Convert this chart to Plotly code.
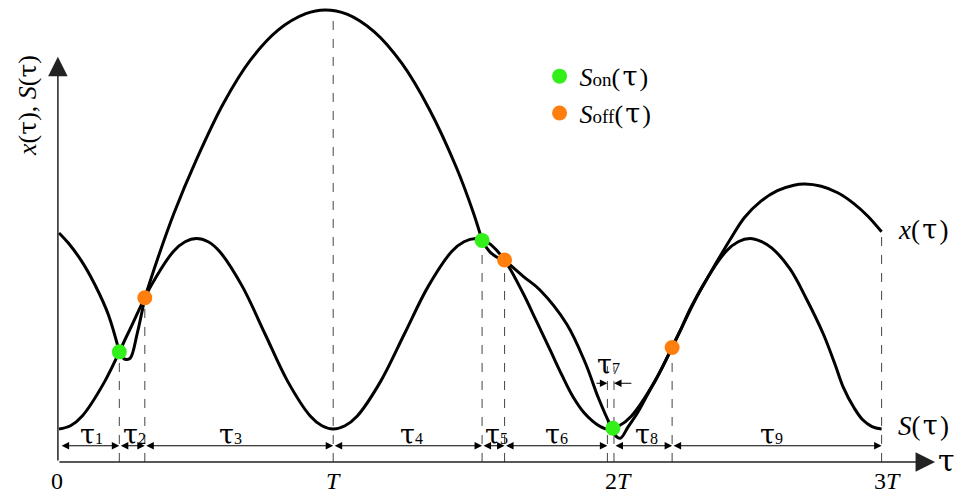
import plotly.graph_objects as go

# ---------------- data (τ in units of T, values in arbitrary units) ----------------
# S(τ): periodic reference curve
s_tau = [0, 0.042, 0.084, 0.167, 0.251, 0.335, 0.418, 0.46, 0.502,
         0.544, 0.585, 0.668, 0.751, 0.834, 0.917, 0.959, 1.0,
         1.043, 1.087, 1.173, 1.26, 1.347, 1.433, 1.477, 1.52,
         1.55, 1.575, 1.625, 1.692, 1.74, 1.791, 1.835, 1.875, 1.915, 1.947, 1.975, 2.0,
         2.043, 2.087, 2.173, 2.26, 2.347, 2.433, 2.477, 2.52,
         2.56, 2.60, 2.666, 2.727, 2.787, 2.83, 2.86, 2.90, 2.93, 2.965, 3.0]
s_val = [0, 0.017, 0.067, 0.25, 0.5, 0.75, 0.933, 0.983, 1.0,
         0.983, 0.933, 0.75, 0.5, 0.25, 0.067, 0.017, 0,
         0.017, 0.067, 0.25, 0.5, 0.75, 0.933, 0.983, 1.0,
         0.99, 0.968, 0.887, 0.714, 0.57, 0.415, 0.28, 0.168, 0.085, 0.04, 0.012, 0,
         0.017, 0.067, 0.25, 0.5, 0.75, 0.933, 0.983, 1.0,
         0.985, 0.95, 0.84, 0.68, 0.50, 0.34, 0.22, 0.11, 0.05, 0.013, 0]

# x(τ): piecewise segments between switching points
xa_tau = [0, 0.034, 0.083, 0.131, 0.18, 0.22]
xa_val = [1.029, 0.976, 0.88, 0.757, 0.6, 0.405]
xb_tau = [0.22, 0.232, 0.245, 0.26, 0.285, 0.313]
xb_val = [0.405, 0.375, 0.365, 0.372, 0.50, 0.689]
xc_tau = [0.313, 0.36, 0.42, 0.50, 0.60, 0.70, 0.80, 0.90, 0.97, 1.05, 1.15, 1.25, 1.35, 1.45, 1.51, 1.543]
xc_val = [0.689, 0.895, 1.135, 1.41, 1.71, 1.94, 2.095, 2.18, 2.20, 2.178, 2.085, 1.92, 1.68, 1.37, 1.14, 0.99]
xd_tau = [1.543, 1.558, 1.575, 1.60, 1.625]
xd_val = [0.99, 0.955, 0.925, 0.90, 0.887]
xe_tau = [1.625, 1.694, 1.754, 1.852, 1.92, 1.968, 2.008, 2.02]
xe_val = [0.887, 0.80, 0.73, 0.55, 0.345, 0.16, 0.03, 0.004]
xf_tau = [2.02, 2.033, 2.048, 2.075, 2.11, 2.15, 2.19, 2.236]
xf_val = [0.004, -0.04, -0.048, 0.01, 0.085, 0.19, 0.295, 0.428]
xg_tau = [2.236, 2.27, 2.30, 2.33, 2.362, 2.40, 2.45, 2.50, 2.56, 2.62, 2.68, 2.72,
          2.78, 2.84, 2.90, 2.95, 3.0]
xg_val = [0.428, 0.53, 0.625, 0.705, 0.785, 0.88, 1.0, 1.11, 1.196, 1.251, 1.28, 1.286,
          1.274, 1.24, 1.182, 1.117, 1.035]

# switching points
on_tau = [0.22, 1.543, 2.02]
on_val = [0.405, 0.99, 0.004]
off_tau = [0.313, 1.625, 2.236]
off_val = [0.689, 0.887, 0.428]

# interval boundaries and labels
int_start = [0.004, 0.22, 0.313, 1.0, 1.543, 1.625, 2.024, 2.236]
int_end = [0.22, 0.313, 1.0, 1.543, 1.625, 2.0, 2.236, 3.0]
int_names = ["1", "2", "3", "4", "5", "6", "8", "9"]
int_label_pos = [0.12, 0.277, 0.624, 1.287, 1.597, 1.816, 2.144, 2.60]
tau7_bounds = [2.0, 2.024]

tick_pos = [-0.007, 1.0, 2.039, 3.02]
tick_text = ["0", "<i>T</i>", "2<i>T</i>", "3<i>T</i>"]

# ---------------- figure ----------------
FONT = "Liberation Serif"
GREEN = "#33f01a"
ORANGE = "#ff7f0e"
AX_Y = -0.173      # level of the τ axis
DIM_Y = -0.088     # level of the interval arrows


def tau(size, pad=False):
    sp = "&#8202;" if pad else ""
    return f"{sp}<span style='font-family:DejaVu Serif;font-size:{size}px'>τ</span>{sp}"


fig = go.Figure()

line_style = dict(color="black", width=3, shape="spline", smoothing=1.0)
fig.add_trace(go.Scatter(x=s_tau, y=s_val, mode="lines", line=line_style,
                         showlegend=False, hoverinfo="skip"))
for tt, vv in [(xa_tau, xa_val), (xb_tau, xb_val), (xc_tau, xc_val), (xd_tau, xd_val),
               (xe_tau, xe_val), (xf_tau, xf_val), (xg_tau, xg_val)]:
    fig.add_trace(go.Scatter(x=tt, y=vv, mode="lines", line=line_style,
                             showlegend=False, hoverinfo="skip"))

# dashed verticals
dash = dict(color="#444", width=1, dash="dash")
vlines = [(on_tau[0], on_val[0]), (off_tau[0], off_val[0]), (1.0, max(xc_val)),
          (on_tau[1], on_val[1]), (off_tau[1], off_val[1]),
          (tau7_bounds[0], 0.33), (tau7_bounds[1], 0.33),
          (off_tau[2], off_val[2]), (3.0, xg_val[-1])]
for t, top in vlines:
    fig.add_shape(type="line", x0=t, x1=t, y0=AX_Y, y1=top, line=dash, layer="below")

fig.add_trace(go.Scatter(x=on_tau, y=on_val, mode="markers",
                         marker=dict(color=GREEN, size=15),
                         name=f"<i>S</i><span style='font-size:19px'>on</span>({tau(27, True)})"))
fig.add_trace(go.Scatter(x=off_tau, y=off_val, mode="markers",
                         marker=dict(color=ORANGE, size=15),
                         name=f"<i>S</i><span style='font-size:19px'>off</span>({tau(27, True)})"))

ann = []
# axes with arrows
ann.append(dict(x=3.195, y=AX_Y, ax=-0.004, ay=AX_Y, xref="x", yref="y", axref="x", ayref="y",
                text="", showarrow=True, arrowhead=2, arrowsize=2.6, arrowwidth=1.5,
                arrowcolor="#222", standoff=0))
ann.append(dict(x=-0.004, y=1.954, ax=-0.004, ay=AX_Y, xref="x", yref="y", axref="x", ayref="y",
                text="", showarrow=True, arrowhead=2, arrowsize=2.6, arrowwidth=1.5,
                arrowcolor="#222", standoff=0))
# interval arrows
for a, b in zip(int_start, int_end):
    ann.append(dict(x=b, y=DIM_Y, ax=a, ay=DIM_Y, xref="x", yref="y", axref="x", ayref="y",
                    text="", showarrow=True, arrowside="end+start", arrowhead=2, startarrowhead=2,
                    arrowsize=1.5, startarrowsize=1.5, arrowwidth=1, arrowcolor="black",
                    standoff=0, startstandoff=0))
# τ7 arrows
ann.append(dict(x=tau7_bounds[0], y=0.24, ax=1.955, ay=0.24, xref="x", yref="y", axref="x", ayref="y",
                text="", showarrow=True, arrowhead=2, arrowsize=1.5, arrowwidth=1,
                arrowcolor="black", standoff=0))
ann.append(dict(x=tau7_bounds[1], y=0.24, ax=2.093, ay=0.24, xref="x", yref="y", axref="x", ayref="y",
                text="", showarrow=True, arrowhead=2, arrowsize=1.5, arrowwidth=1,
                arrowcolor="black", standoff=0))

lab_font = dict(family=FONT, size=26, color="black")
for name, pos in zip(int_names, int_label_pos):
    ann.append(dict(x=pos, y=-0.031, xref="x", yref="y", showarrow=False,
                    text=f"{tau(27)}<span style='font-size:16px'>{name}</span>", font=lab_font))
ann.append(dict(x=2.003, y=0.341, xref="x", yref="y", showarrow=False,
                text=f"{tau(27)}<span style='font-size:16px'>7</span>", font=lab_font))

tick_font = dict(family=FONT, size=24, color="black")
for p, t in zip(tick_pos, tick_text):
    ann.append(dict(x=p, y=-0.273, xref="x", yref="y", showarrow=False, text=t, font=tick_font))

ann.append(dict(x=3.235, y=AX_Y + 0.01, xref="x", yref="y", showarrow=False, text=tau(30),
                font=dict(family=FONT, size=28, color="black")))
ann.append(dict(x=3.151, y=1.045, xref="x", yref="y", showarrow=False,
                text=f"<i>x</i>({tau(27, True)})", font=dict(family=FONT, size=27, color="black")))
ann.append(dict(x=3.151, y=0.021, xref="x", yref="y", showarrow=False,
                text=f"<i>S</i>({tau(27, True)})", font=dict(family=FONT, size=27, color="black")))
ann.append(dict(x=-0.113, y=1.696, xref="x", yref="y", showarrow=False, textangle=-90,
                text=f"<i>x</i>({tau(25)}), <i>S</i>({tau(25)})",
                font=dict(family=FONT, size=26, color="black")))

fig.update_layout(
    width=955, height=493,
    margin=dict(l=0, r=0, t=0, b=0),
    paper_bgcolor="white", plot_bgcolor="white",
    xaxis=dict(range=[-59 / 274.2, (955 - 59) / 274.2], visible=False, fixedrange=True),
    yaxis=dict(range=[-64 / 190.5, 429 / 190.5], visible=False, fixedrange=True),
    annotations=ann,
    legend=dict(x=0.565, y=0.893, xanchor="left", yanchor="top", bgcolor="rgba(0,0,0,0)",
                font=dict(family=FONT, size=26, color="black"), itemsizing="trace",
                tracegroupgap=0),
    showlegend=True,
)

fig.write_html("out.html")
